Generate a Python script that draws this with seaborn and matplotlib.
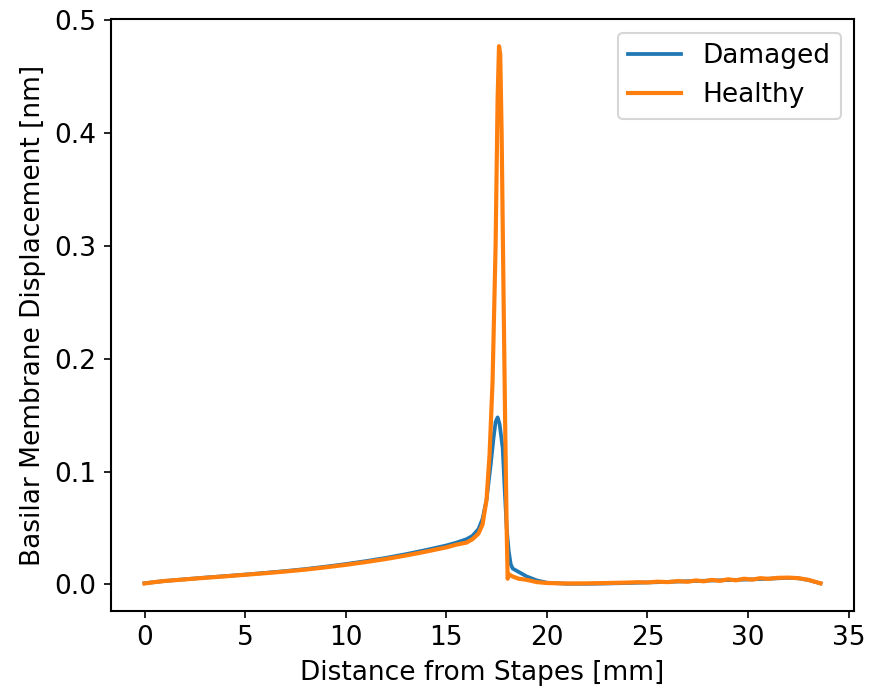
import matplotlib
matplotlib.use("Agg")
import matplotlib.pyplot as plt
import seaborn as sns
import pandas as pd

# Damaged series
x_damaged = [0, 0.5, 1, 2, 3, 4, 5, 6, 7, 8, 9, 10, 11, 12, 13, 14, 15, 15.5, 16.0,
             16.3, 16.6, 16.8, 17.0, 17.2, 17.35, 17.45, 17.55, 17.65, 17.8, 17.9, 18.0,
             18.1, 18.2, 18.3, 18.6, 19, 19.5, 20, 21, 22, 23, 24, 25, 26, 27, 28, 29, 30,
             31, 31.5, 32, 32.5, 33, 33.6]
y_damaged = [0.001, 0.002, 0.003, 0.0045, 0.006, 0.0073, 0.0087, 0.0102, 0.0118, 0.0136,
             0.0157, 0.018, 0.0206, 0.0235, 0.0268, 0.0305, 0.0345, 0.037, 0.040,
             0.043, 0.049, 0.058, 0.075, 0.105, 0.130, 0.144, 0.148, 0.142, 0.121, 0.085,
             0.050, 0.030, 0.018, 0.014, 0.011, 0.007, 0.0035, 0.0015, 0.0005, 0.0005,
             0.0008, 0.0012, 0.0017, 0.0022, 0.0028, 0.0033, 0.0038, 0.0043, 0.0050,
             0.0054, 0.0058, 0.0054, 0.0038, 0.0009]

# Healthy series
x_healthy = [0, 0.5, 1, 2, 3, 4, 5, 6, 7, 8, 9, 10, 11, 12, 13, 14, 15, 15.5, 16.0,
             16.3, 16.6, 16.8, 17.0, 17.15, 17.3, 17.45, 17.55, 17.62, 17.68, 17.75, 17.85,
             17.92, 18.0, 18.05, 18.1, 18.3, 18.6, 19, 19.5, 20, 21, 22, 23, 24, 24.5, 25,
             25.5, 26, 26.5, 27, 27.4, 27.8, 28.2, 28.6, 29, 29.4, 29.8, 30.2, 30.6, 31,
             31.5, 32, 32.5, 33, 33.6]
y_healthy = [0.0008, 0.002, 0.003, 0.0044, 0.0058, 0.0071, 0.0085, 0.0099, 0.0114, 0.0131,
             0.0151, 0.0173, 0.0198, 0.0225, 0.0256, 0.0291, 0.0328, 0.0352, 0.037,
             0.040, 0.045, 0.053, 0.075, 0.115, 0.180, 0.300, 0.430, 0.477, 0.470, 0.400,
             0.250, 0.150, 0.050, 0.005, 0.009, 0.007, 0.005, 0.004, 0.002, 0.0012, 0.0008,
             0.0009, 0.0012, 0.0016, 0.0019, 0.0017, 0.0024, 0.0020, 0.0029, 0.0023, 0.0035,
             0.0027, 0.0040, 0.0031, 0.0045, 0.0036, 0.0050, 0.0042, 0.0055, 0.0049, 0.0058,
             0.0060, 0.0055, 0.0040, 0.0009]

labels = ["Damaged", "Healthy"]
colors = ["#1f77b4", "#ff7f0e"]

FS = 12.7
plt.rcParams["font.family"] = ["DejaVu Sans"]
plt.rcParams["font.size"] = FS

fig = plt.figure(figsize=(869 / 150, 692 / 150), dpi=150)
ax = fig.add_axes([0.1274, 0.1175, 0.9831 - 0.1274, 0.9721 - 0.1175])

df_d = pd.DataFrame({"x": x_damaged, "y": y_damaged})
df_h = pd.DataFrame({"x": x_healthy, "y": y_healthy})
sns.lineplot(data=df_d, x="x", y="y", ax=ax, color=colors[0], label=labels[0],
             linewidth=1.8, sort=False)
sns.lineplot(data=df_h, x="x", y="y", ax=ax, color=colors[1], label=labels[1],
             linewidth=2.0, sort=False)

ax.set_xlabel("Distance from Stapes [mm]", fontsize=FS)
ax.set_ylabel("Basilar Membrane Displacement [nm]", fontsize=FS)
ax.tick_params(labelsize=FS, direction="out")
ax.set_yticks([0.0, 0.1, 0.2, 0.3, 0.4, 0.5])
ax.set_xticks([0, 5, 10, 15, 20, 25, 30, 35])
ax.legend(loc="upper right", fontsize=FS)
for s in ax.spines.values():
    s.set_linewidth(1.0)

fig.savefig("out.png", dpi=150)
